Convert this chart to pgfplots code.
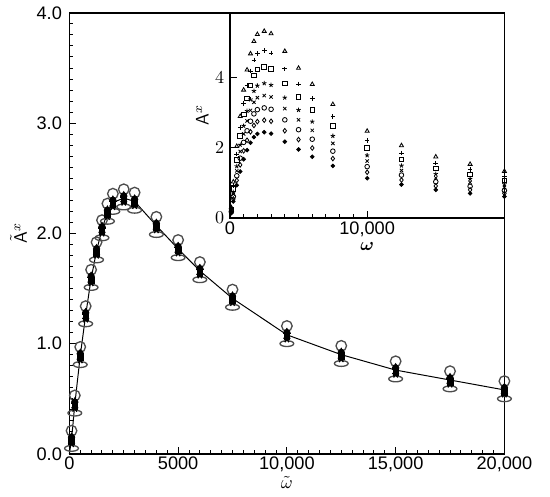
\documentclass[border=0pt]{standalone}
\usepackage{fontspec}
\setmainfont{Liberation Sans}
\usepackage{bm}
\usepackage{pgfplots}
\usepackage{pgfplotstable}
\pgfplotsset{compat=1.18}

% scaled data (main panel): mean curve
\pgfplotstableread{
w f
0 0
100 0.13
250 0.45
500 0.89
750 1.26
1000 1.59
1250 1.84
1500 2.04
1750 2.19
2000 2.28
2500 2.32
3000 2.29
4000 2.07
5000 1.86
6000 1.66
7500 1.41
10000 1.08
12500 0.90
15000 0.76
17500 0.67
20000 0.58
}\curve

% scaled data (main panel): the individual runs
\pgfplotstableread{
w c e t p s d k
100 0.21 0.05 0.16 0.14 0.11 0.15 0.09
250 0.53 0.37 0.48 0.46 0.43 0.47 0.41
500 0.97 0.81 0.92 0.90 0.87 0.91 0.85
750 1.34 1.18 1.29 1.27 1.24 1.28 1.22
1000 1.67 1.51 1.62 1.60 1.57 1.61 1.55
1250 1.92 1.76 1.87 1.85 1.82 1.86 1.80
1500 2.12 1.96 2.07 2.05 2.02 2.06 2.00
1750 2.27 2.11 2.22 2.20 2.17 2.21 2.15
2000 2.36 2.20 2.31 2.29 2.26 2.30 2.24
2500 2.40 2.24 2.35 2.33 2.30 2.34 2.28
3000 2.37 2.21 2.32 2.30 2.27 2.31 2.25
4000 2.15 1.99 2.10 2.08 2.05 2.09 2.03
5000 1.94 1.78 1.89 1.87 1.84 1.88 1.82
6000 1.74 1.58 1.69 1.67 1.64 1.68 1.62
7500 1.49 1.33 1.44 1.42 1.39 1.43 1.37
10000 1.16 1.00 1.11 1.09 1.06 1.10 1.04
12500 0.98 0.82 0.93 0.91 0.88 0.92 0.86
15000 0.84 0.68 0.79 0.77 0.74 0.78 0.72
17500 0.75 0.59 0.70 0.68 0.65 0.69 0.63
20000 0.66 0.50 0.61 0.59 0.56 0.60 0.54
}\scaled

% unscaled data (inset)
\pgfplotstableread{
w tri plus sq star crs circ diam dot
100 0.30 0.27 0.24 0.21 0.20 0.18 0.16 0.14
250 1.03 0.92 0.83 0.74 0.68 0.61 0.54 0.47
500 2.04 1.82 1.65 1.47 1.34 1.20 1.07 0.93
750 2.89 2.58 2.33 2.08 1.89 1.70 1.51 1.32
1000 3.64 3.26 2.94 2.62 2.39 2.15 1.91 1.67
1250 4.21 3.77 3.40 3.04 2.76 2.48 2.21 1.93
1500 4.67 4.18 3.77 3.37 3.06 2.75 2.45 2.14
1750 5.02 4.49 4.05 3.61 3.29 2.96 2.63 2.30
2000 5.22 4.67 4.22 3.76 3.42 3.08 2.74 2.39
2500 5.31 4.76 4.29 3.83 3.48 3.13 2.78 2.44
3000 5.24 4.69 4.24 3.78 3.44 3.09 2.75 2.40
4000 4.74 4.24 3.83 3.42 3.11 2.79 2.48 2.17
5000 4.26 3.81 3.44 3.07 2.79 2.51 2.23 1.95
6000 3.80 3.40 3.07 2.74 2.49 2.24 1.99 1.74
7500 3.23 2.89 2.61 2.33 2.12 1.90 1.69 1.48
10000 2.47 2.21 2.00 1.78 1.62 1.46 1.30 1.13
12500 2.06 1.85 1.67 1.49 1.35 1.22 1.08 0.95
15000 1.74 1.56 1.41 1.25 1.14 1.03 0.91 0.80
17500 1.53 1.37 1.24 1.11 1.01 0.90 0.80 0.70
20000 1.33 1.19 1.07 0.96 0.87 0.78 0.70 0.61
}\raw

\begin{document}
\begin{tikzpicture}[font=\fontsize{11}{13}\selectfont]
  % page kept at 550:495, main axis box placed as in the reference
  \useasboundingbox (-42pt,-25.8pt) rectangle (291pt,274.8pt);
  \pgfplotsset{
    every axis/.append style={
      scale only axis,clip=false,
      xtick pos=bottom,ytick pos=left,tick align=inside,
      major tick length=4.2pt,minor tick length=2.4pt,
      axis line style={line width=0.9pt},
      tick style={line width=0.6pt,black},
      scaled x ticks=false,
    },
    pts/.style={only marks,black,line width=0.5pt,mark size=1.4pt},
  }

  \begin{axis}[
    name=main,at={(0,0)},anchor=south west,
    width=263.4pt,height=267pt,
    xmin=0,xmax=20000,ymin=0,ymax=4,
    xtick={0,5000,10000,15000,20000},
    xticklabels={0,5000,{10,000},{15,000},{20,000}},
    ytick={0,1,2,3,4},
    yticklabels={0.0,1.0,2.0,3.0,4.0},
    minor x tick num=9,minor y tick num=9,
    xticklabel style={yshift=2pt},
    yticklabel style={xshift=-1pt},
    xlabel={$\tilde{\omega}$},
    ylabel={$\tilde{\mathsf{A}}^{x}$},
    xlabel style={yshift=4pt},
    ylabel style={yshift=-1pt},
  ]
    \addplot[black,line width=0.6pt] table[x=w,y=f] {\curve};
    \addplot[only marks,black!70,line width=0.8pt,mark=o,mark size=3.2pt,
      mark options={xscale=1.3,yscale=0.55}] table[x=w,y=e] {\scaled};
    \addplot[only marks,black!70,line width=0.8pt,mark=o,mark size=3.2pt]
      table[x=w,y=c] {\scaled};
    \addplot[only marks,black,mark=triangle*,mark size=2pt] table[x=w,y=t] {\scaled};
    \addplot[only marks,black,line width=0.8pt,mark=+,mark size=2.2pt] table[x=w,y=p] {\scaled};
    \addplot[only marks,black,mark=square*,mark size=1.7pt] table[x=w,y=s] {\scaled};
    \addplot[only marks,black,mark=*,mark size=2pt] table[x=w,y=d] {\scaled};
    \addplot[only marks,black,line width=0.8pt,mark=star,mark size=2.2pt] table[x=w,y=k] {\scaled};
  \end{axis}

  \begin{axis}[
    at={(main.north east)},anchor=north east,
    width=166.2pt,height=124.2pt,
    axis background/.style={fill=white},
    xmin=0,xmax=20000,ymin=0,ymax=5.83,
    xtick={0,10000},xticklabels={0,{10,000}},
    minor x tick num=9,
    ytick={0,2,4},
    xticklabel style={yshift=1.5pt},
    xlabel={$\bm{\omega}$},
    ylabel={$\mathsf{A}^{x}$},
    xlabel style={yshift=3pt},
    ylabel style={yshift=-3pt},
  ]
    \addplot[pts,mark=triangle] table[x=w,y=tri] {\raw};
    \addplot[pts,mark=+] table[x=w,y=plus] {\raw};
    \addplot[pts,mark=square] table[x=w,y=sq] {\raw};
    \addplot[pts,mark=star] table[x=w,y=star] {\raw};
    \addplot[pts,mark=x] table[x=w,y=crs] {\raw};
    \addplot[pts,mark=o] table[x=w,y=circ] {\raw};
    \addplot[pts,mark=diamond] table[x=w,y=diam] {\raw};
    \addplot[pts,mark=*,mark size=1.1pt] table[x=w,y=dot] {\raw};
  \end{axis}
\end{tikzpicture}
\end{document}
